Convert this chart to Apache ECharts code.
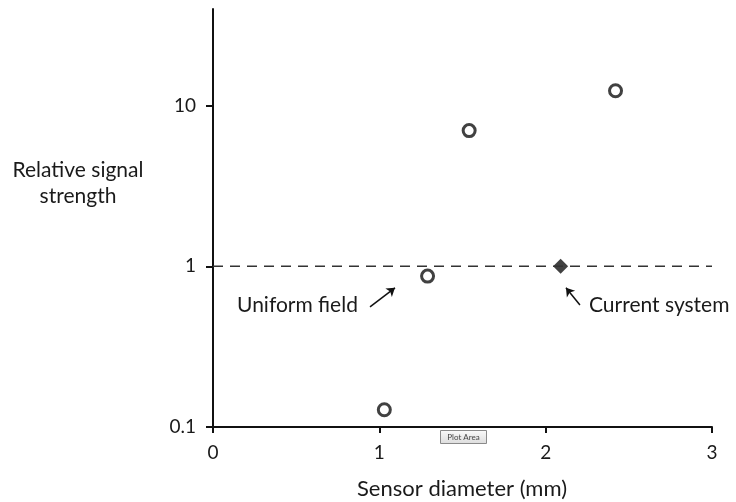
<!DOCTYPE html>
<html>
<head>
<meta charset="utf-8">
<script src="https://cdn.jsdelivr.net/npm/echarts@6/dist/echarts.min.js"></script>
<style>
html,body{margin:0;padding:0;background:#fff;}
#chart{width:736px;height:502px;}
</style>
</head>
<body>
<div id="chart"></div>
<script>
// Data
const xTicks = [0, 1, 2, 3];
const yTicks = [0.1, 1, 10];
const sensorPoints = [[1.03, 0.128], [1.29, 0.87], [1.54, 7.0], [2.42, 12.4]];
const currentSystem = [[2.09, 1.0]];
const uniformLine = [[0, 1], [3, 1]];
const arrowUniform = [[0.944, 0.559], [1.094, 0.735]];
const arrowCurrent = [[2.206, 0.575], [2.122, 0.735]];
const xTitle = 'Sensor diameter (mm)';
const yTitle = 'Relative signal\nstrength';

const FONT = 'Lato';
const TXT = '#1a1a1a';
const chart = echarts.init(document.getElementById('chart'), null, {renderer: 'canvas'});
chart.setOption({
  backgroundColor: '#fff',
  animation: false,
  grid: {left: 213, right: 24, top: 9, bottom: 75, containLabel: false},
  xAxis: {
    type: 'value', min: 0, max: 3, interval: 1,
    axisLine: {show: true, onZero: false, lineStyle: {color: '#111', width: 2}},
    axisTick: {show: true, length: 6, inside: false, lineStyle: {color: '#111', width: 2}},
    axisLabel: {margin: 16, fontFamily: FONT, fontSize: 19, color: TXT},
    splitLine: {show: false}
  },
  yAxis: {
    type: 'log', logBase: 10, min: 0.1, max: 40,
    axisLine: {show: true, lineStyle: {color: '#111', width: 2}},
    axisTick: {show: true, length: 7, customValues: yTicks, lineStyle: {color: '#111', width: 2}},
    axisLabel: {customValues: yTicks, margin: 17, fontFamily: FONT, fontSize: 19, color: TXT,
      formatter: v => String(v)},
    splitLine: {show: false}
  },
  series: [
    {
      type: 'line', data: uniformLine, symbol: 'none', silent: true,
      lineStyle: {color: '#333', width: 1.5, type: [10, 7]},
      markLine: {
        silent: true, symbol: ['none', 'arrow'], symbolSize: 8, label: {show: false},
        lineStyle: {color: '#111', width: 1.5, type: 'solid'},
        data: [
          [{coord: arrowUniform[0]}, {coord: arrowUniform[1]}],
          [{coord: arrowCurrent[0]}, {coord: arrowCurrent[1]}]
        ]
      }
    },
    {
      type: 'scatter', data: sensorPoints, symbol: 'circle', symbolSize: 12,
      itemStyle: {color: '#fff', borderColor: '#111', borderWidth: 3}
    },
    {
      type: 'scatter', data: currentSystem, symbol: 'diamond', symbolSize: 15,
      itemStyle: {color: '#111'}
    }
  ],
  graphic: [
    {type: 'text', x: 78, y: 183, style: {text: yTitle, font: '21px ' + FONT, fill: TXT, align: 'center', verticalAlign: 'middle', lineHeight: 26}},
    {type: 'text', x: 462, y: 489, style: {text: xTitle, font: '22px ' + FONT, fill: TXT, align: 'center', verticalAlign: 'middle'}},
    {type: 'text', x: 237, y: 305, style: {text: 'Uniform field', font: '21px ' + FONT, fill: TXT, align: 'left', verticalAlign: 'middle'}},
    {type: 'text', x: 589, y: 305, style: {text: 'Current system', font: '21px ' + FONT, fill: TXT, align: 'left', verticalAlign: 'middle'}},
    {type: 'rect', shape: {x: 440.5, y: 430.5, width: 46, height: 13}, style: {fill: {type: 'linear', x: 0, y: 0, x2: 0, y2: 1, colorStops: [{offset: 0, color: '#fbfbfb'}, {offset: 1, color: '#dcdcdc'}]}, stroke: '#8a8a8a', lineWidth: 1}},
    {type: 'text', x: 463.5, y: 437, style: {text: 'Plot Area', font: '8px ' + FONT, fill: '#444', align: 'center', verticalAlign: 'middle'}}
  ]
});
</script>
</body>
</html>
